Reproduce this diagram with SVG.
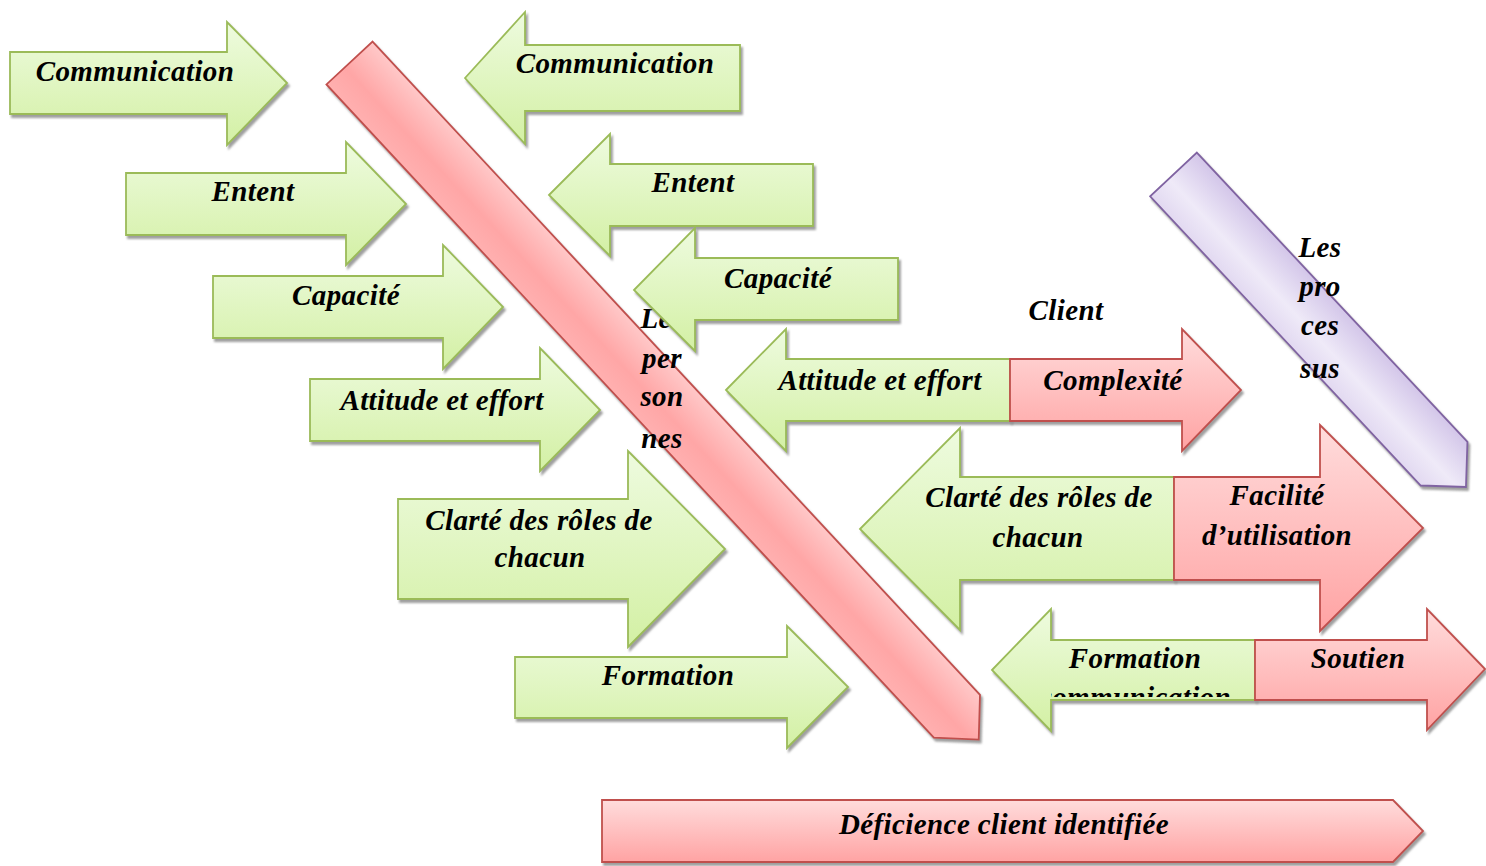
<svg xmlns="http://www.w3.org/2000/svg" width="1486" height="866" viewBox="0 0 1486 866">
  <style>
    .g { fill: url(#gGreen); stroke: #9bbb59; stroke-width: 1.8; stroke-linejoin: miter; }
    .r { fill: url(#gRed); stroke: #c0504d; stroke-width: 1.8; stroke-linejoin: miter; }
    .sh { filter: url(#shadow); }
    .t { font-family: "Liberation Serif", "Times New Roman", serif; font-weight: bold; font-style: italic; font-size: 29px; letter-spacing: 0.4px; fill: #000; text-anchor: middle; }
  </style>
  <defs>
    <linearGradient id="gGreen" x1="0" y1="0" x2="0" y2="1">
      <stop offset="0" stop-color="#eefbdf"/>
      <stop offset="1" stop-color="#d3f0a4"/>
    </linearGradient>
    <linearGradient id="gRed" x1="0" y1="0" x2="0" y2="1">
      <stop offset="0" stop-color="#ffdcdc"/>
      <stop offset="1" stop-color="#ffa3a3"/>
    </linearGradient>
    <linearGradient id="gBar" x1="0" y1="0" x2="0" y2="1">
      <stop offset="0" stop-color="#ffc8c8"/>
      <stop offset="0.6" stop-color="#ffa6a6"/>
      <stop offset="1" stop-color="#ffb0b0"/>
    </linearGradient>
    <linearGradient id="gPurple" x1="0" y1="0" x2="0" y2="1">
      <stop offset="0" stop-color="#d3c6e9"/>
      <stop offset="0.6" stop-color="#efeaf8"/>
      <stop offset="1" stop-color="#e2d9f1"/>
    </linearGradient>
    <filter id="shadow" x="-5%" y="-5%" width="115%" height="115%">
      <feDropShadow dx="2" dy="3" stdDeviation="1" flood-color="#7f7f7f" flood-opacity="0.75"/>
    </filter>
    <clipPath id="clipFormR">
      <rect x="1051" y="640" width="204" height="57"/>
    </clipPath>
  </defs>

  <!-- diagonal bar: people -->
  <g id="bar-personnes">
    <g class="sh">
      <polygon transform="translate(349.5,63) rotate(47.08)" points="0,-31.5 892,-31.5 924,0 892,31.5 0,31.5" fill="url(#gBar)" stroke="#c0504d" stroke-width="1.8"/>
    </g>
    <text class="t" x="662" y="328">Les</text>
    <text class="t" x="662" y="368">per</text>
    <text class="t" x="662" y="406">son</text>
    <text class="t" x="662" y="448">nes</text>
  </g>

  <!-- diagonal bar: processes -->
  <g id="bar-processus">
    <g class="sh">
      <polygon transform="translate(1173.5,174.5) rotate(46.9)" points="0,-32 396,-32 428,0 396,32 0,32" fill="url(#gPurple)" stroke="#8064a2" stroke-width="1.8"/>
    </g>
    <text class="t" x="1320" y="257">Les</text>
    <text class="t" x="1320" y="296">pro</text>
    <text class="t" x="1320" y="335">ces</text>
    <text class="t" x="1320" y="378">sus</text>
  </g>

  <!-- left column: right-pointing arrows -->
  <g id="l-communication">
    <polygon class="g sh" points="10,52 227,52 227,22 287,83 227,145 227,114 10,114"/>
    <text class="t" x="135" y="81">Communication</text>
  </g>
  <g id="l-entent">
    <polygon class="g sh" points="126,173 346,173 346,142 406,204 346,265 346,235 126,235"/>
    <text class="t" x="253" y="201">Entent</text>
  </g>
  <g id="l-capacite">
    <polygon class="g sh" points="213,276 443,276 443,245 503,307 443,369 443,338 213,338"/>
    <text class="t" x="346" y="305">Capacité</text>
  </g>
  <g id="l-attitude">
    <polygon class="g sh" points="310,379 540,379 540,348 600,410 540,471 540,441 310,441"/>
    <text class="t" x="442" y="410">Attitude et effort</text>
  </g>
  <g id="l-clarte">
    <polygon class="g sh" points="398,499 628,499 628,451 725,549 628,647 628,599 398,599"/>
    <text class="t" x="539" y="530">Clarté des rôles de</text>
    <text class="t" x="540" y="567">chacun</text>
  </g>
  <g id="l-formation">
    <polygon class="g sh" points="515,657 787,657 787,626 848,687 787,748 787,718 515,718"/>
    <text class="t" x="668" y="685">Formation</text>
  </g>

  <!-- right column: left-pointing arrows -->
  <g id="r-communication">
    <polygon class="g sh" points="465,78 525,12 525,45 740,45 740,111 525,111 525,144"/>
    <text class="t" x="615" y="73">Communication</text>
  </g>
  <g id="r-entent">
    <polygon class="g sh" points="549,195 610,134 610,164 813,164 813,226 610,226 610,256"/>
    <text class="t" x="693" y="192">Entent</text>
  </g>
  <g id="r-capacite">
    <polygon class="g sh" points="634,290 695,228 695,258 898,258 898,320 695,320 695,351"/>
    <text class="t" x="778" y="288">Capacité</text>
  </g>

  <g id="client-label">
    <text class="t" x="1066" y="320">Client</text>
  </g>

  <g id="r-attitude">
    <polygon class="g sh" points="726,390 786,329 786,359 1010,359 1010,421 786,421 786,451"/>
    <text class="t" x="880" y="390">Attitude et effort</text>
  </g>
  <g id="r-complexite">
    <polygon class="r sh" points="1010,359 1182,359 1182,329 1241,390 1182,451 1182,421 1010,421"/>
    <text class="t" x="1113" y="390">Complexité</text>
  </g>
  <g id="r-clarte">
    <polygon class="g sh" points="860,529 960,428 960,477 1174,477 1174,580 960,580 960,630"/>
    <text class="t" x="1039" y="507">Clarté des rôles de</text>
    <text class="t" x="1038" y="547">chacun</text>
  </g>
  <g id="r-facilite">
    <polygon class="r sh" points="1174,477 1320,477 1320,425 1423,528 1320,631 1320,580 1174,580"/>
    <text class="t" x="1277" y="505">Facilité</text>
    <text class="t" x="1277" y="545">d’utilisation</text>
  </g>
  <g id="r-formation">
    <polygon class="g sh" points="992,670 1051,609 1051,640 1255,640 1255,700 1051,700 1051,731"/>
    <text class="t" x="1135" y="668">Formation</text>
    <text class="t" x="1135" y="707" letter-spacing="0" clip-path="url(#clipFormR)">communication</text>
  </g>
  <g id="r-soutien">
    <polygon class="r sh" points="1255,640 1427,640 1427,609 1485,669 1427,730 1427,700 1255,700"/>
    <text class="t" x="1358" y="668">Soutien</text>
  </g>

  <!-- outcome -->
  <g id="deficience">
    <polygon class="r sh" points="602,800 1393,800 1423,831 1393,862 602,862"/>
    <text class="t" x="1004" y="834">Déficience client identifiée</text>
  </g>
</svg>
